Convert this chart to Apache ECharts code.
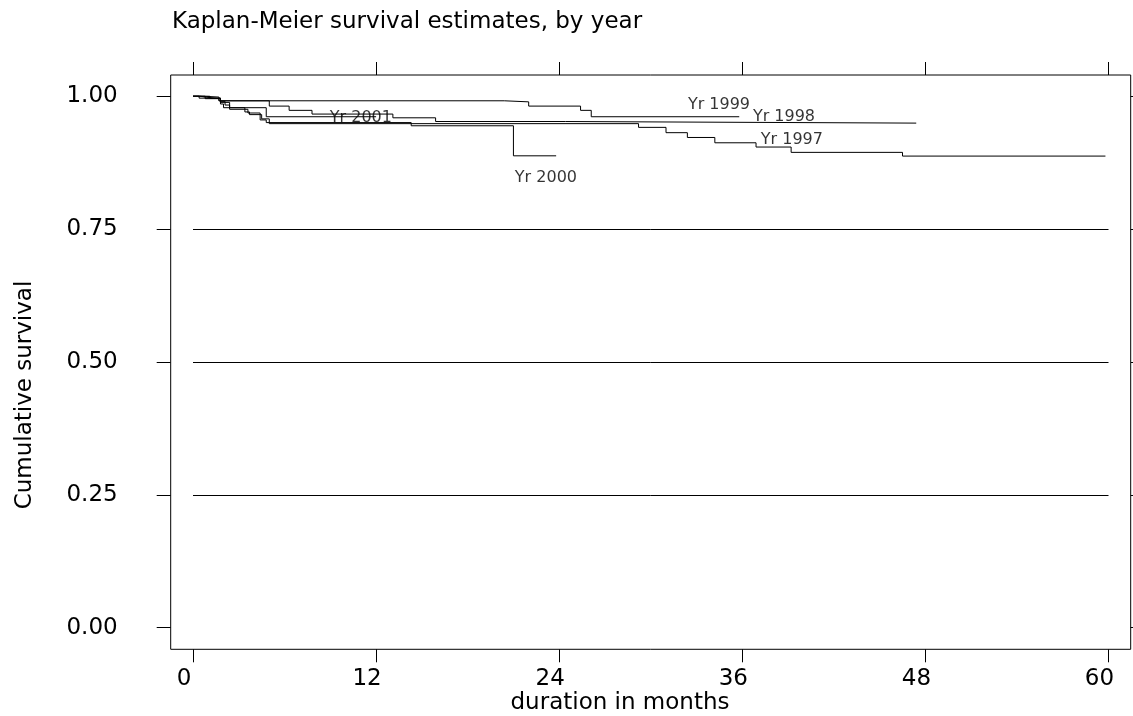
<!DOCTYPE html>
<html>
<head>
<meta charset="utf-8">
<script src="https://cdn.jsdelivr.net/npm/echarts@6/dist/echarts.min.js"></script>
<style>
html,body{margin:0;padding:0;background:#fff;}
#main{width:1133px;height:716px;}
</style>
</head>
<body>
<div id="main"></div>
<script>
// ---- data (months, cumulative survival) ----
var t1997 = [0, 1.1, 1.8, 2.1, 2.4, 3.4, 3.7, 4.5, 5.0, 29.2, 31.0, 32.4, 34.2, 36.9, 39.2, 46.5, 59.8];
var s1997 = [1.000, 0.996, 0.990, 0.983, 0.978, 0.970, 0.965, 0.957, 0.948, 0.941, 0.931, 0.922, 0.912, 0.904, 0.894, 0.887, 0.887];

var t1998 = [0, 0.4, 0.8, 1.7, 5.0, 6.3, 7.8, 13.1, 15.9, 24.4, 47.4];
var s1998 = [1.000, 0.998, 0.995, 0.991, 0.981, 0.973, 0.966, 0.959, 0.952, 0.949, 0.949];

var t1999 = [0, 0.4, 1.7, 20.4, 22.0, 25.4, 26.1, 35.8];
var s1999 = [1.000, 0.998, 0.991, 0.989, 0.981, 0.973, 0.961, 0.961];

var t2000 = [0, 0.8, 1.8, 2.4, 3.6, 4.4, 4.8, 14.3, 21.0, 23.8];
var s2000 = [1.000, 0.995, 0.988, 0.975, 0.968, 0.955, 0.950, 0.944, 0.8875, 0.8875];

var t2001 = [0, 0.4, 1.8, 2.0, 4.8, 12.0];
var s2001 = [1.000, 0.996, 0.985, 0.978, 0.961, 0.961];

var curveNames = ['Yr 1997', 'Yr 1998', 'Yr 1999', 'Yr 2000', 'Yr 2001'];
var labelX = [39.25, 38.73, 34.47, 23.13, 11.0];
var labelY = [0.9175, 0.961, 0.983, 0.846, 0.959];

var xTicks = [0, 12, 24, 36, 48, 60];
var yTicks = [0, 0.25, 0.5, 0.75, 1];

var titleText = 'Kaplan-Meier survival estimates, by year';
var xTitle = 'duration in months';
var yTitle = 'Cumulative survival';

// ---- build ----
function zip(t, s) { return t.map(function (v, i) { return [v, s[i]]; }); }
var curves = [[t1997, s1997], [t1998, s1998], [t1999, s1999], [t2000, s2000], [t2001, s2001]];
var FONT = 'DejaVu Sans, Verdana, sans-serif';

var series = curves.map(function (c, i) {
  return {
    name: curveNames[i], type: 'line', step: 'end', xAxisIndex: 0, yAxisIndex: 0,
    data: zip(c[0], c[1]), showSymbol: false, symbol: 'none', silent: true,
    lineStyle: { color: '#000', width: 1 }, animation: false, z: 3
  };
});
series.push({
  type: 'scatter', xAxisIndex: 0, yAxisIndex: 0, symbolSize: 1, silent: true, animation: false,
  itemStyle: { color: 'rgba(0,0,0,0)' },
  data: curveNames.map(function (n, i) { return { value: [labelX[i], labelY[i]], name: n }; }),
  label: { show: true, position: 'inside', formatter: '{b}', color: '#000', fontSize: 16, fontFamily: FONT },
  z: 4
});
// frame dummy series
series.push({ type: 'line', xAxisIndex: 2, yAxisIndex: 2, data: [], silent: true });

var L = 193, R = 1108.5, T = 96, B = 627.7;     // data area (0..60, 0..1)
var FL = 170.7, FR = 1130.7, FT = 75, FB = 649.3; // frame

var option = {
  backgroundColor: '#fff',
  animation: false,
  grid: [
    { left: L, right: 1133 - R, top: T, bottom: 716 - B, show: false },
    { left: FL, right: 1133 - FR, top: FT, bottom: 716 - FB, show: true, borderColor: '#000', borderWidth: 1, backgroundColor: 'transparent' }
  ],
  xAxis: [
    {
      type: 'value', gridIndex: 0, position: 'bottom', min: 0, max: 60, interval: 12, offset: FB - B,
      axisLine: { show: false, onZero: false },
      axisTick: { show: true, length: 13, lineStyle: { color: '#000', width: 1 } },
      axisLabel: { show: true, fontSize: 23, color: '#000', fontFamily: FONT, margin: 18, padding: [0, 18, 0, 0] },
      splitLine: { show: false }
    },
    {
      type: 'value', gridIndex: 0, position: 'top', min: 0, max: 60, interval: 12, offset: T - FT,
      axisLine: { show: false, onZero: false },
      axisTick: { show: true, length: 13, lineStyle: { color: '#000', width: 1 } },
      axisLabel: { show: false }, splitLine: { show: false }
    },
    { type: 'value', gridIndex: 1, show: false, min: 0, max: 1 }
  ],
  yAxis: [
    {
      type: 'value', gridIndex: 0, position: 'left', min: 0, max: 1, interval: 0.25, offset: L - FL,
      axisLine: { show: false, onZero: false },
      axisTick: { show: true, length: 14, lineStyle: { color: '#000', width: 1 } },
      axisLabel: {
        show: true, fontSize: 23, color: '#000', fontFamily: FONT, margin: 53, padding: [12, 0, 0, 0],
        formatter: function (v) { return v.toFixed(2); }
      },
      splitLine: { show: true, showMinLine: false, showMaxLine: false, lineStyle: { color: '#000', width: 1 } }
    },
    {
      type: 'value', gridIndex: 0, position: 'right', min: 0, max: 1, interval: 0.25, offset: FR - R,
      axisLine: { show: false, onZero: false },
      axisTick: { show: true, length: 14, lineStyle: { color: '#000', width: 1 } },
      axisLabel: { show: false }, splitLine: { show: false }
    },
    { type: 'value', gridIndex: 1, show: false, min: 0, max: 1 }
  ],
  graphic: [
    {
      type: 'text', x: 172, y: 22, silent: true,
      style: { text: titleText, fontSize: 23, fill: '#000', fontFamily: FONT, align: 'left', verticalAlign: 'middle' }
    },
    {
      type: 'text', x: 620, y: 703, silent: true,
      style: { text: xTitle, fontSize: 23, fill: '#000', fontFamily: FONT, align: 'center', verticalAlign: 'middle' }
    },
    {
      type: 'text', x: 25, y: 395, rotation: Math.PI / 2, silent: true,
      style: { text: yTitle, fontSize: 23, fill: '#000', fontFamily: FONT, align: 'center', verticalAlign: 'middle' }
    }
  ],
  series: series
};

var chart = echarts.init(document.getElementById('main'), null, { renderer: 'canvas' });
chart.setOption(option);
</script>
</body>
</html>
